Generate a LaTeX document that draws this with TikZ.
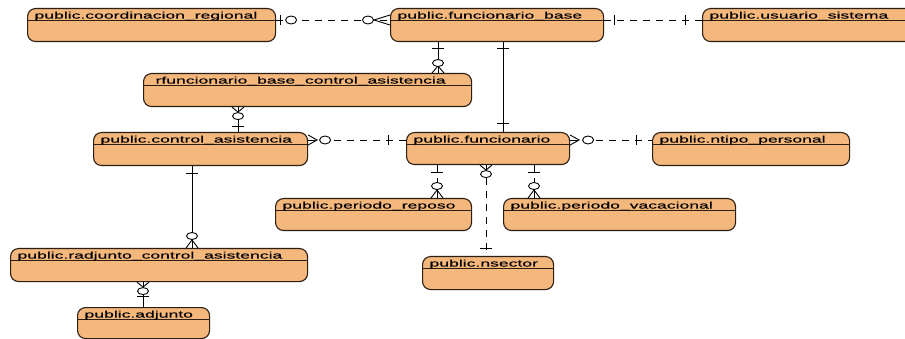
\documentclass[tikz,border=0pt]{standalone}
\usepackage{fontspec}
\newfontfamily\erfont[FakeStretch=1.85,FakeBold=0.3]{Liberation Sans}
\usetikzlibrary{calc}
\definecolor{entfill}{RGB}{244,183,124}
\definecolor{entline}{RGB}{45,30,20}
\tikzset{
  ent/.style={draw=entline, fill=entfill, line width=1.1pt, rounded corners=8pt,
    inner xsep=7pt, inner ysep=1pt, anchor=north west,
    font=\erfont\fontsize{9.5}{10}\selectfont,
    path picture={\draw[entline, line width=0.9pt]
      ([yshift=-12pt]path picture bounding box.north west) --
      ([yshift=-12pt]path picture bounding box.north east);}},
  conn/.style={line width=0.9pt, black},
  dconn/.style={conn, dash pattern=on 7pt off 6pt},
  pics/barh/.style={code={\draw[conn, solid] (#1,-5) -- (#1,5);}},
  pics/barv/.style={code={\draw[conn, solid] (#1,-6) -- (#1,6);}},
  pics/crowh/.style={code={\draw[conn, solid] (0,-5) -- (#1,0) -- (0,5);}},
  pics/crowv/.style={code={\draw[conn, solid] (0,-6) -- (#1,0) -- (0,6);}},
  pics/circh/.style={code={\draw[conn, solid, fill=white] (#1,0) ellipse[x radius=5.5pt, y radius=4pt];}},
  pics/circv/.style={code={\draw[conn, solid, fill=white] (#1,0) ellipse[x radius=3.5pt, y radius=5.5pt];}},
}
\newcommand\entity[6]{\node[ent] (#1) at (#2,#3)
  {\raisebox{0pt}[9pt][\dimexpr#5pt-#3pt-11pt\relax]{\makebox[\dimexpr#4pt-#2pt-14pt\relax][l]{#6}}};}
\begin{document}
\begin{tikzpicture}[x=1pt, y=-1pt]
\useasboundingbox (0,0) rectangle (905,339);
\clip (0,0) rectangle (905,339);
\fill[white] (0,0) rectangle (905,339);

\entity{coord}{27}{8}{275}{41}{public.coordinacion\_regional}
\entity{fb}{390}{8}{603}{41}{public.funcionario\_base}
\entity{usu}{702}{8}{925}{41}{public.usuario\_sistema}
\entity{rfunc}{143}{73}{471}{106}{\hspace{5pt}rfuncionario\_base\_control\_asistencia}
\entity{ctrl}{93}{132}{307}{165}{public.control\_asistencia}
\entity{func}{406}{132}{569}{164}{public.funcionario}
\entity{ntipo}{652}{132}{849}{165}{public.ntipo\_personal}
\entity{reposo}{275}{198}{471}{230}{public.periodo\_reposo}
\entity{vac}{503}{198}{735}{230}{public.periodo\_vacacional}
\entity{radj}{10}{248}{307}{281}{public.radjunto\_control\_asistencia}
\entity{adj}{77}{307}{209}{338}{public.adjunto}
\entity{nsec}{422}{256}{553}{289}{public.nsector}

% coordinacion_regional -- funcionario_base
\draw[dconn] ($(coord.north east)+(0,12)$) coordinate (a1) -- (a1 -| fb.west) coordinate (a2);
\pic at (a1) {barh=4};
\pic at (a1) {circh=15};
\pic[rotate=180] at (a2) {crowh=16};
\pic[rotate=180] at (a2) {circh=22};

% funcionario_base -- usuario_sistema
\draw[dconn] ($(fb.north east)+(0,12)$) coordinate (b1) -- (b1 -| usu.west) coordinate (b2);
\pic at (b1) {barh=10};
\pic[rotate=180] at (b2) {barh=17};

% funcionario_base -- rfuncionario
\draw[conn] ($(fb.south west)+(48,0)$) coordinate (c1) -- (c1 |- rfunc.north) coordinate (c2);
\pic[rotate=-90] at (c1) {barv=6};
\pic[rotate=90] at (c2) {crowv=7};
\pic[rotate=90] at (c2) {circv=10};

% funcionario_base -- funcionario
\draw[conn] ($(fb.south west)+(113,0)$) coordinate (d1) -- (d1 |- func.north) coordinate (d2);
\pic[rotate=-90] at (d1) {barv=6};
\pic[rotate=90] at (d2) {barv=9};

% rfuncionario -- control_asistencia
\draw[conn] ($(rfunc.south west)+(95,0)$) coordinate (e1) -- (e1 |- ctrl.north) coordinate (e2);
\pic[rotate=-90] at (e1) {crowv=5};
\pic[rotate=-90] at (e1) {circv=9};
\pic[rotate=90] at (e2) {barv=6};

% control_asistencia -- funcionario
\draw[dconn] ($(ctrl.north east)+(0,8)$) coordinate (f1) -- (f1 -| func.west) coordinate (f2);
\pic at (f1) {crowh=9};
\pic at (f1) {circh=17};
\pic[rotate=180] at (f2) {barh=18};

% funcionario -- ntipo_personal
\draw[dconn] ($(func.north east)+(0,8)$) coordinate (g1) -- (g1 -| ntipo.west) coordinate (g2);
\pic at (g1) {crowh=9};
\pic at (g1) {circh=18};
\pic[rotate=180] at (g2) {barh=16};

% funcionario -- periodo_reposo
\draw[dconn] ($(func.south west)+(31,0)$) coordinate (h1) -- (h1 |- reposo.north) coordinate (h2);
\pic[rotate=-90] at (h1) {barv=7};
\pic[rotate=90] at (h2) {crowv=8};
\pic[rotate=90] at (h2) {circv=12};

% funcionario -- nsector
\draw[dconn] ($(func.south west)+(80,0)$) coordinate (i1) -- (i1 |- nsec.north) coordinate (i2);
\pic[rotate=-90] at (i1) {crowv=5};
\pic[rotate=-90] at (i1) {circv=9};
\pic[rotate=90] at (i2) {barv=8};

% funcionario -- periodo_vacacional
\draw[dconn] ($(func.south west)+(128,0)$) coordinate (j1) -- (j1 |- vac.north) coordinate (j2);
\pic[rotate=-90] at (j1) {barv=7};
\pic[rotate=90] at (j2) {crowv=8};
\pic[rotate=90] at (j2) {circv=12};

% control_asistencia -- radjunto
\draw[conn] ($(ctrl.south west)+(99,0)$) coordinate (k1) -- (k1 |- radj.north) coordinate (k2);
\pic[rotate=-90] at (k1) {barv=7};
\pic[rotate=90] at (k2) {crowv=8};
\pic[rotate=90] at (k2) {circv=12};

% radjunto -- adjunto
\draw[conn] ($(radj.south west)+(133,0)$) coordinate (l1) -- (l1 |- adj.north) coordinate (l2);
\pic[rotate=-90] at (l1) {crowv=5};
\pic[rotate=-90] at (l1) {circv=9};
\pic[rotate=90] at (l2) {barv=11};
\end{tikzpicture}
\end{document}
